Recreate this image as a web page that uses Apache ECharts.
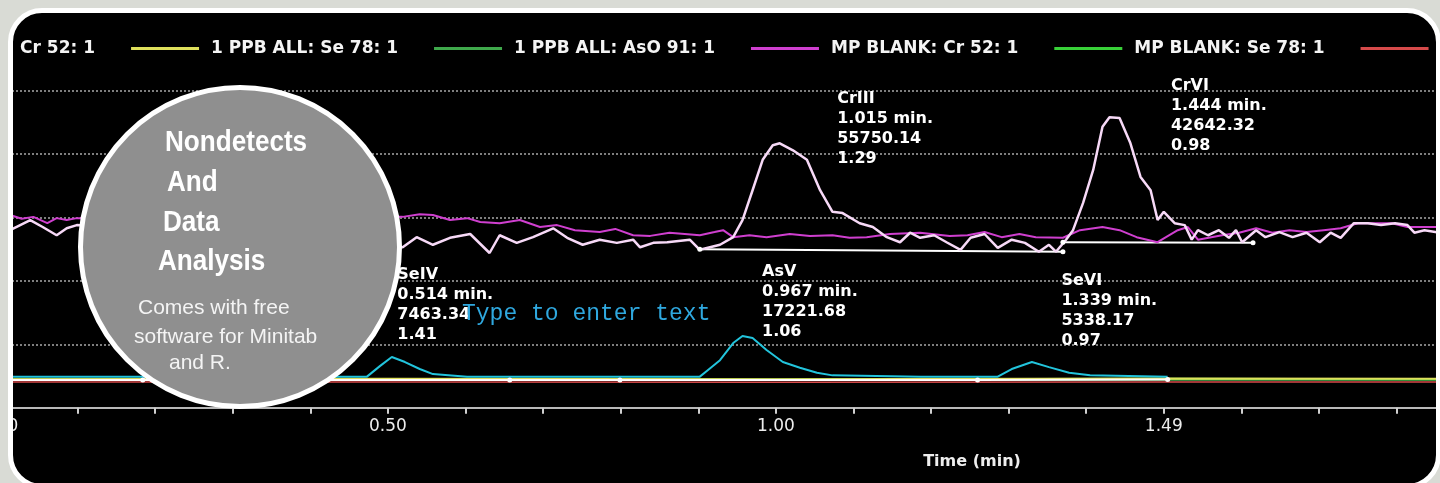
<!DOCTYPE html>
<html>
<head>
<meta charset="utf-8">
<title>Cr / Se / As speciation chromatogram</title>
<script src="https://cdn.jsdelivr.net/npm/echarts@6.0.0/dist/echarts.min.js"></script>
<style>
  html, body { margin: 0; padding: 0; width: 1440px; height: 483px; overflow: hidden; background: #d9dbd5; }
  .frame {
    position: absolute; left: 8px; top: 8px; width: 1433px; height: 481px;
    box-sizing: border-box; border: 5px solid #fff; border-radius: 34px;
    background: #000; overflow: hidden;
  }
  #chart { position: absolute; left: -13px; top: -13px; width: 1440px; height: 483px; }
</style>
</head>
<body>
<div class="frame"><div id="chart"></div></div>
<script>
// x in minutes, y in counts
const xTickLabels = ['0', '0.50', '1.00', '1.49']

const legendNames = [
  '1 PPB ALL: Cr 52: 1',
  '1 PPB ALL: Se 78: 1',
  '1 PPB ALL: AsO 91: 1',
  'MP BLANK: Cr 52: 1',
  'MP BLANK: Se 78: 1',
  'MP BLANK: AsO 91: 1'
]

const crStd = [
  [0.013, 2800], [0.039, 2960], [0.055, 2850], [0.073, 2720], [0.086, 2830], [0.099, 2880],
  [0.519, 2530], [0.537, 2690], [0.558, 2570], [0.580, 2680], [0.606, 2740], [0.631, 2440],
  [0.644, 2720], [0.666, 2600], [0.687, 2690], [0.713, 2830], [0.731, 2680], [0.751, 2570],
  [0.773, 2650], [0.795, 2600], [0.816, 2650], [0.825, 2530], [0.842, 2600], [0.860, 2610],
  [0.889, 2650], [0.902, 2490], [0.928, 2570], [0.945, 2690], [0.957, 2960], [0.970, 3430],
  [0.983, 3910], [0.996, 4140], [1.005, 4170], [1.022, 4060], [1.040, 3910], [1.057, 3430],
  [1.073, 3090], [1.086, 3070], [1.108, 2910], [1.125, 2850], [1.143, 2690], [1.160, 2610],
  [1.173, 2760], [1.186, 2680], [1.204, 2720], [1.220, 2610], [1.238, 2490], [1.251, 2680],
  [1.269, 2740], [1.286, 2520], [1.304, 2650], [1.321, 2600], [1.339, 2460], [1.352, 2570],
  [1.361, 2460], [1.374, 2650], [1.383, 2800], [1.396, 3230], [1.409, 3750], [1.421, 4430],
  [1.430, 4580], [1.443, 4570], [1.457, 4170], [1.470, 3640], [1.483, 3430], [1.492, 2960],
  [1.500, 3090], [1.514, 2910], [1.527, 2880], [1.536, 2650], [1.544, 2800], [1.557, 2720],
  [1.571, 2800], [1.584, 2680], [1.593, 2800], [1.601, 2610], [1.619, 2800], [1.631, 2690],
  [1.649, 2770], [1.666, 2690], [1.684, 2760], [1.701, 2610], [1.715, 2760], [1.728, 2680],
  [1.745, 2910], [1.763, 2910], [1.780, 2880], [1.798, 2910], [1.814, 2880], [1.823, 2760],
  [1.836, 2800], [1.856, 2760]
]

const crBlank = [
  [0.013, 3040], [0.028, 2980], [0.043, 3010], [0.061, 2910], [0.073, 2990], [0.086, 2960],
  [0.099, 2990], [0.519, 3010], [0.541, 3050], [0.558, 3040], [0.580, 2960], [0.602, 2990],
  [0.619, 2930], [0.644, 2910], [0.670, 2960], [0.696, 2850], [0.718, 2880], [0.741, 2800],
  [0.773, 2770], [0.793, 2820], [0.816, 2720], [0.838, 2710], [0.863, 2760], [0.902, 2720],
  [0.921, 2770], [0.932, 2800], [0.945, 2690], [0.966, 2720], [0.988, 2690], [1.018, 2740],
  [1.044, 2710], [1.073, 2720], [1.095, 2680], [1.117, 2690], [1.147, 2740], [1.186, 2760],
  [1.224, 2710], [1.247, 2720], [1.269, 2770], [1.291, 2690], [1.314, 2740], [1.335, 2690],
  [1.370, 2680], [1.392, 2800], [1.421, 2850], [1.443, 2800], [1.465, 2690], [1.492, 2610],
  [1.518, 2800], [1.531, 2850], [1.544, 2650], [1.575, 2720], [1.597, 2760], [1.619, 2830],
  [1.640, 2760], [1.662, 2800], [1.684, 2770], [1.706, 2800], [1.728, 2830], [1.750, 2910],
  [1.772, 2910], [1.794, 2910], [1.814, 2850], [1.856, 2850]
]

// highlighted Se / As peaks
const peakTrace = [
  [0.013, 490], [0.473, 490], [0.490, 660], [0.505, 800], [0.522, 720], [0.541, 610],
  [0.558, 530], [0.602, 490], [0.902, 490], [0.911, 580], [0.928, 750], [0.945, 1020],
  [0.957, 1130], [0.970, 1100], [0.988, 910], [1.009, 720], [1.031, 630], [1.053, 550],
  [1.073, 510], [1.186, 490], [1.286, 490], [1.304, 610], [1.330, 720], [1.352, 640],
  [1.378, 550], [1.405, 510], [1.505, 490]
]

const seStd = [[0, 450], [0.5, 455], [1.0, 450], [1.5, 460], [1.856, 455]]
const asStd = [[0, 440], [0.5, 440], [1.0, 435], [1.5, 445], [1.856, 440]]
const seBlank = [[0, 445], [0.5, 450], [1.0, 445], [1.5, 455], [1.856, 450]]
const asBlank = [[0, 405], [0.5, 405], [1.0, 400], [1.5, 405], [1.856, 405]]

// integration baselines
const baseCrIII = [[0.902, 2500], [1.370, 2460]]
const baseCrVI = [[1.370, 2610], [1.615, 2600]]
const baseLow = [[0.013, 435], [0.184, 435], [0.657, 435], [0.799, 435], [1.260, 435], [1.505, 445]]

const peakLabels = [
  ['CrIII', '1.015 min.', '55750.14', '1.29'],
  ['CrVI', '1.444 min.', '42642.32', '0.98'],
  ['SeIV', '0.514 min.', '7463.34', '1.41'],
  ['AsV', '0.967 min.', '17221.68', '1.06'],
  ['SeVI', '1.339 min.', '5338.17', '0.97']
]
const peakApex = [[1.005, 4170], [1.430, 4580], [0.505, 800], [0.957, 1130], [1.330, 720]]

const font = 'DejaVu Sans'
const labelShift = [[58, -54], [62, -41], [6, -92], [20, -74], [30, -91]]

const chart = echarts.init(document.getElementById('chart'))

const trace = (name, data, color, width) => ({
  name,
  type: 'line',
  data,
  showSymbol: false,
  symbol: 'none',
  color,
  lineStyle: { color, width },
  silent: true
})

const baseline = (data) => ({
  type: 'line',
  data,
  symbol: 'circle',
  symbolSize: 5,
  showSymbol: true,
  color: '#ffffff',
  itemStyle: { color: '#ffffff' },
  lineStyle: { color: '#ffffff', width: 2 },
  silent: true
})

chart.setOption({
  animation: false,
  backgroundColor: 'transparent',
  grid: { left: 0, right: 0, top: 59, bottom: 75.3, containLabel: false, outerBoundsMode: 'none' },
  legend: {
    data: legendNames,
    left: -174,
    top: 35,
    width: 1900,
    icon: 'rect',
    itemWidth: 68,
    itemHeight: 3,
    itemGap: 36,
    textStyle: { color: '#f4f4f4', fontFamily: font, fontWeight: 'bold', fontSize: 17, padding: [4, 0, 0, 7] }
  },
  xAxis: {
    type: 'value',
    min: 0,
    max: 1.856,
    interval: 0.1,
    name: 'Time (min)',
    nameLocation: 'middle',
    nameGap: 46,
    nameMoveOverlap: false,
    nameTextStyle: { color: '#eeeeee', fontFamily: font, fontWeight: 'bold', fontSize: 16, padding: [0, 0, 0, 504] },
    axisLine: { show: true, lineStyle: { color: '#b8b8b8', width: 2 } },
    axisTick: { show: true, length: 6, lineStyle: { color: '#d0d0d0', width: 2 } },
    splitLine: { show: false },
    axisLabel: {
      color: '#ececec',
      fontFamily: font,
      fontSize: 17,
      margin: 10,
      formatter: (v) => {
        const i = Math.round(v * 10)
        if (i % 5 !== 0 || xTickLabels[i / 5] === undefined) return ''
        return i === 0 ? '{z|0}' : xTickLabels[i / 5]
      },
      rich: { z: { color: '#ececec', fontFamily: font, fontSize: 17, padding: [0, 0, 0, 26] } }
    }
  },
  yAxis: {
    type: 'value',
    min: 0,
    max: 5500,
    interval: 1000,
    axisLine: { show: false },
    axisTick: { show: false },
    axisLabel: { show: false },
    splitLine: {
      show: true,
      showMinLine: false,
      showMaxLine: false,
      lineStyle: { color: '#a8a8a8', width: 1.5, type: [2, 2] }
    }
  },
  series: [
    trace(legendNames[5], asBlank, '#d64a4a', 1.5),
    trace(legendNames[2], asStd, '#3fa84b', 2),
    trace(legendNames[4], seBlank, '#38d038', 2),
    trace(legendNames[1], seStd, '#dfe05c', 2),
    baseline(baseLow),
    trace('Se/As peaks', peakTrace, '#22c4dc', 2),
    baseline(baseCrIII),
    baseline(baseCrVI),
    trace(legendNames[3], crBlank, '#cf3fcf', 2),
    trace(legendNames[0], crStd, '#f7d9f7', 2.5),
    {
      type: 'scatter',
      symbolSize: 1,
      itemStyle: { color: 'rgba(0,0,0,0)', opacity: 1 },
      silent: true,
      z: 10,
      data: peakApex.map((p, i) => ({
        value: p,
        label: { formatter: peakLabels[i].join('\n'), offset: labelShift[i] }
      })),
      label: {
        show: true,
        position: [0, 0],
        align: 'left',
        verticalAlign: 'top',
        color: '#ffffff',
        opacity: 1,
        fontFamily: font,
        fontWeight: 'bold',
        fontSize: 16,
        lineHeight: 20
      }
    }
  ],
  graphic: {
    elements: [
      {
        type: 'circle',
        z: 100,
        shape: { cx: 240, cy: 247, r: 159.5 },
        style: { fill: '#8f8f8f', stroke: '#ffffff', lineWidth: 5 }
      },
      ...[['Nondetects', 165, 143], ['And', 167, 183], ['Data', 163, 223], ['Analysis', 158, 262]].map(([t, x, y]) => ({
        type: 'text', z: 101, x, y, scaleX: 0.87,
        style: { text: t, fill: '#ffffff', font: 'bold 30px "Liberation Sans", Arial, sans-serif', align: 'left', textAlign: 'left', verticalAlign: 'middle', textVerticalAlign: 'middle' }
      })),
      ...[['Comes with free', 138, 308], ['software for Minitab', 134, 337], ['and R.', 169, 363]].map(([t, x, y]) => ({
        type: 'text', z: 101, x, y,
        style: { text: t, fill: '#f4f4f4', font: '21px "Liberation Sans", Arial, sans-serif', align: 'left', textAlign: 'left', verticalAlign: 'middle', textVerticalAlign: 'middle' }
      })),
      {
        type: 'text', z: 50, x: 462, y: 314,
        style: { text: 'Type to enter text', fill: '#2fa8df', font: '23px "Liberation Mono", monospace', align: 'left', textAlign: 'left', verticalAlign: 'middle', textVerticalAlign: 'middle' }
      }
    ]
  }
})

window.addEventListener('resize', () => chart.resize())
</script>
</body>
</html>
